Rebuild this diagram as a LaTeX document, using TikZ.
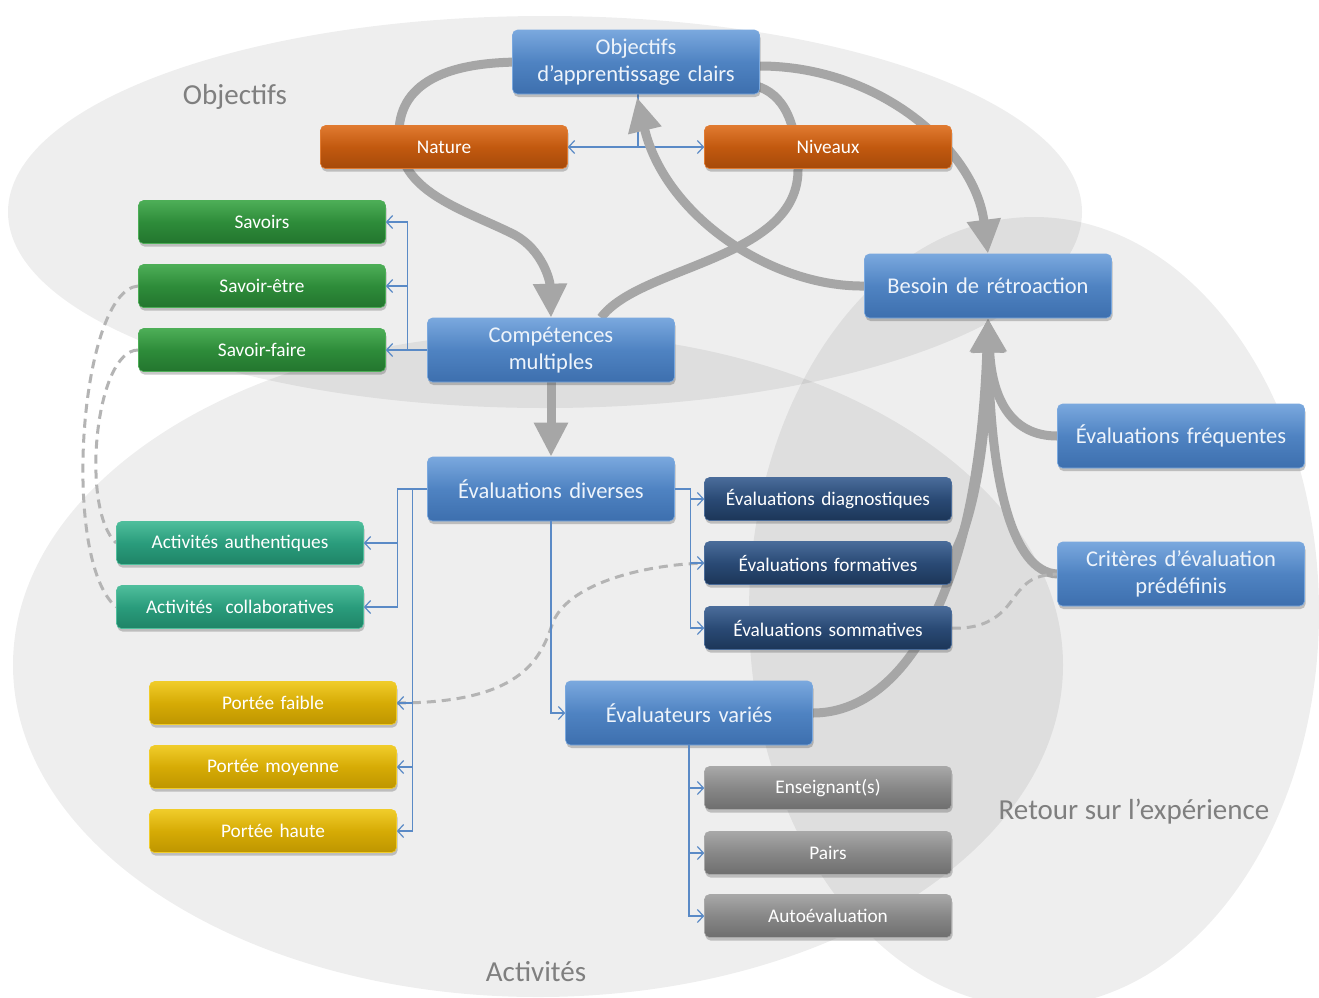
\documentclass[tikz,border=0pt]{standalone}
\usepackage{fontspec}
\setmainfont{Carlito}
\usetikzlibrary{arrows.meta,shadows,calc}
\pgfdeclarelayer{bg}
\pgfdeclarelayer{mid}
\pgfsetlayers{bg,mid,main}
\definecolor{blueT}{HTML}{7AA8DE}
\definecolor{blueM}{HTML}{4F83C2}
\definecolor{blueB}{HTML}{3D6FAE}
\definecolor{blueText}{HTML}{EEF4FB}
\definecolor{orT}{HTML}{E07A30}
\definecolor{orM}{HTML}{C2590F}
\definecolor{orB}{HTML}{A64A0A}
\definecolor{grT}{HTML}{4DAE57}
\definecolor{grM}{HTML}{2E8C3A}
\definecolor{grB}{HTML}{23752E}
\definecolor{tlT}{HTML}{4FBE9C}
\definecolor{tlM}{HTML}{2A9C7C}
\definecolor{tlB}{HTML}{1F8467}
\definecolor{gdT}{HTML}{F0CC2A}
\definecolor{gdM}{HTML}{D6AB05}
\definecolor{gdB}{HTML}{BE9600}
\definecolor{nvT}{HTML}{4A6C9A}
\definecolor{nvM}{HTML}{2A4A75}
\definecolor{nvB}{HTML}{1C3658}
\definecolor{gyT}{HTML}{A8A8A8}
\definecolor{gyM}{HTML}{878787}
\definecolor{gyB}{HTML}{6E6E6E}
\definecolor{fatgray}{HTML}{A6A6A6}
\definecolor{dashgray}{HTML}{B4B4B4}
\definecolor{linkblue}{HTML}{5A8AC6}
\definecolor{labelgray}{HTML}{7F7F7F}
\tikzset{
  glossy/.style n args={3}{top color=#1, bottom color=#3, middle color=#2, draw=#1},
  basebox/.style={rounded corners=5pt, minimum width=247pt, text width=240pt, align=center,
    inner sep=0pt, text=white, line width=0.6pt,
    drop shadow={shadow xshift=1pt, shadow yshift=-3pt, opacity=0.3, fill=black!70}},
  bigbox/.style={basebox, minimum height=64pt, font=\fontsize{22.5}{27}\selectfont,
    glossy={blueT}{blueM}{blueB}, text=blueText},
  smallbox/.style={basebox, minimum height=43pt, font=\fontsize{19.3}{22}\selectfont},
  orangebox/.style={smallbox, glossy={orT}{orM}{orB}},
  greenbox/.style={smallbox, glossy={grT}{grM}{grB}},
  tealbox/.style={smallbox, glossy={tlT}{tlM}{tlB}},
  goldbox/.style={smallbox, glossy={gdT}{gdM}{gdB}},
  navybox/.style={smallbox, glossy={nvT}{nvM}{nvB}},
  graybox/.style={smallbox, glossy={gyT}{gyM}{gyB}},
  lbl/.style={text=labelgray, font=\fontsize{29}{34}\selectfont, inner sep=0pt},
  ellfill/.style={fill=black, fill opacity=0.065},
  fatline/.style={draw=fatgray, line width=9pt},
  fat/.style={fatline, -{Triangle[width=32pt,length=34pt]}},
  dashcurve/.style={draw=dashgray, line width=3pt, dash pattern=on 9pt off 6pt},
  link/.style={draw=linkblue, line width=1.2pt, -{Straight Barb[length=6pt,width=13pt]}},
}
\begin{document}
\begin{tikzpicture}[x=1pt,y=-1pt]
\useasboundingbox (0,0) rectangle (1319,997);
\begin{pgfonlayer}{bg}
  \fill[white] (0,0) rectangle (1319,997);
  \fill[ellfill] (545,212) ellipse [x radius=537pt, y radius=196pt];
  \fill[ellfill] (538,665) ellipse [x radius=525pt, y radius=332pt];
  \fill[ellfill] (1034,612) ellipse [x radius=285pt, y radius=395pt];
\end{pgfonlayer}

% nodes
\node[bigbox] (obj) at (636,62) {Objectifs\\d’apprentissage clairs};
\node[orangebox] (nat) at (444,147) {Nature};
\node[orangebox] (niv) at (828,147) {Niveaux};
\node[greenbox] (sav) at (262,222) {Savoirs};
\node[greenbox] (setre) at (262,286) {Savoir-être};
\node[greenbox] (sfaire) at (262,350) {Savoir-faire};
\node[bigbox] (comp) at (551,350) {Compétences\\multiples};
\node[bigbox] (bes) at (988,286) {Besoin de rétroaction};
\node[bigbox] (freq) at (1181,436) {Évaluations fréquentes};
\node[bigbox] (evdiv) at (551,489) {Évaluations diverses};
\node[navybox] (diag) at (828,499) {Évaluations diagnostiques};
\node[navybox] (form) at (828,563) {Évaluations formatives};
\node[navybox] (somm) at (828,628) {Évaluations sommatives};
\node[bigbox] (crit) at (1181,574) {Critères d’évaluation\\prédéfinis};
\node[tealbox] (auth) at (240,543) {Activités authentiques};
\node[tealbox] (collab) at (240,607) {Activités\ \ collaboratives};
\node[goldbox] (pf) at (273,703) {Portée faible};
\node[goldbox] (pm) at (273,767) {Portée moyenne};
\node[goldbox] (ph) at (273,831) {Portée haute};
\node[bigbox] (evvar) at (689,713) {Évaluateurs variés};
\node[graybox] (ens) at (828,788) {Enseignant(s)};
\node[graybox] (pairs) at (828,853) {Pairs};
\node[graybox] (auto) at (828,916) {Autoévaluation};

\node[lbl] (lobj) at (235,97) {Objectifs};
\node[lbl] (lact) at (536,972) {Activités};
\node[lbl] (lret) at (1134,812) {Retour sur l’expérience};

% thick grey flows and dashed links behind the boxes
\begin{pgfonlayer}{mid}
  \draw[link] ([xshift=2pt]obj.south) |- (nat.east);
  \draw[link] ([xshift=2pt]obj.south) |- (niv.west);

  \draw[fat] ([xshift=10pt]obj.west) .. controls (420,62) and (393,100) .. (400,147)
     .. controls (406,195) and (470,212) .. (515,235)
     .. controls (542,250) and (550,280) .. (comp.north);
  \draw[fatline] ([xshift=50pt]comp.north) .. controls (640,265) and (800,260) .. (798,168)
     .. controls (796,115) and (780,90) .. ([xshift=-10pt,yshift=10pt]obj.south east);
  \draw[fat] ([yshift=-4pt]obj.east) .. controls (880,66) and (975,150) .. (bes.north);
  \draw[fat] (bes.west) .. controls (770,287) and (665,215) .. ([xshift=1pt,yshift=-3pt]obj.south);
  \draw[fat] (comp.south) -- (evdiv.north);
  \draw[fat] (freq.west) .. controls (1012,436) and (992,400) .. (bes.south);
  \draw[fat] (crit.west) .. controls (1012,572) and (990,480) .. (bes.south);
  \draw[fat] ([yshift=6pt]form.east) .. controls (972,525) and (988,440) .. (bes.south);
  \draw[fat] (evvar.east) .. controls (900,713) and (978,600) .. (bes.south);

  \draw[dashcurve] (setre.west) .. controls (80,290) and (60,560) .. (collab.west);
  \draw[dashcurve] (sfaire.west) .. controls (95,350) and (80,510) .. (auth.west);
  \draw[dashcurve] (pf.east) .. controls (520,703) and (540,660) .. (552,625)
     .. controls (565,585) and (640,565) .. (form.west);
  \draw[dashcurve] (somm.east) .. controls (1000,630) and (1010,600) .. (1020,590)
     .. controls (1030,578) and (1040,575) .. (crit.west);
\end{pgfonlayer}

% thin blue tree connectors
\draw[link] (comp.west) -- ++(-20,0) |- (sav.east);
\draw[link] (comp.west) -- ++(-20,0) |- (setre.east);
\draw[link] (comp.west) -- (sfaire.east);
\draw[link] (evdiv.west) -- ++(-30,0) |- (auth.east);
\draw[link] (evdiv.west) -- ++(-30,0) |- (collab.east);
\draw[link] (evdiv.west) -- ++(-15,0) |- (pf.east);
\draw[link] (evdiv.west) -- ++(-15,0) |- (pm.east);
\draw[link] (evdiv.west) -- ++(-15,0) |- (ph.east);
\draw[link] (evdiv.east) -- ++(16,0) |- (diag.west);
\draw[link] (evdiv.east) -- ++(16,0) |- (form.west);
\draw[link] (evdiv.east) -- ++(16,0) |- (somm.west);
\draw[link] (evdiv.south) |- (evvar.west);
\draw[link] (evvar.south) |- (ens.west);
\draw[link] (evvar.south) |- (pairs.west);
\draw[link] (evvar.south) |- (auto.west);
\end{tikzpicture}
\end{document}
